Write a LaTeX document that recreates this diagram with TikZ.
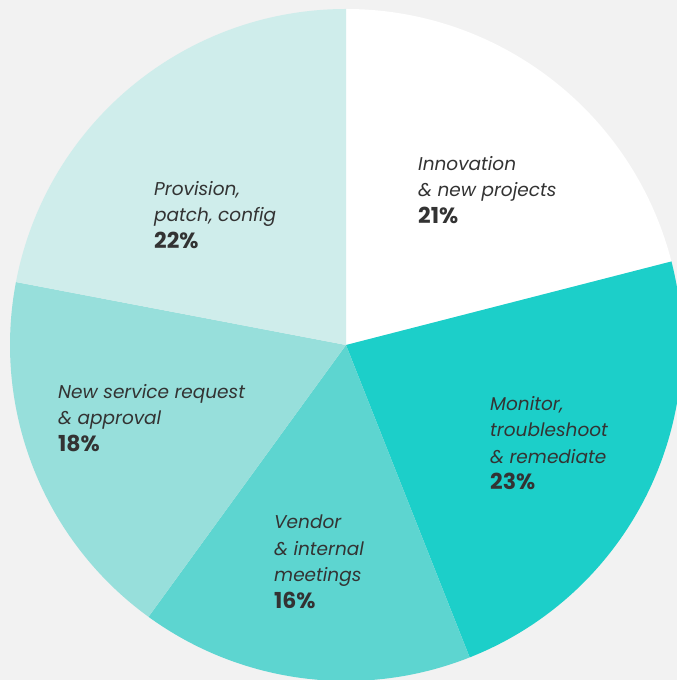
\documentclass[tikz,border=0pt]{standalone}
\usepackage{fontspec}
\setmainfont{Poppins}
\definecolor{bg}{HTML}{F2F2F2}
\definecolor{sA}{HTML}{FFFFFF}
\definecolor{sB}{HTML}{1CCFC9}
\definecolor{sC}{HTML}{5DD5D0}
\definecolor{sD}{HTML}{97DFDB}
\definecolor{sE}{HTML}{CFEDEB}
\definecolor{txt}{HTML}{333333}
\newcommand{\pct}[1]{{\fontsize{22}{26.5}\selectfont\upshape\bfseries #1}}
\begin{document}
\begin{tikzpicture}[x=1pt,y=1pt,
  lbl/.style={anchor=north west,inner sep=0pt,align=left,text=txt,
    font=\fontsize{18.5}{26.5}\selectfont\itshape}]
\fill[bg] (0,0) rectangle (677,680);
\useasboundingbox (0,0) rectangle (677,680);
\coordinate (c) at (346,335);
\def\R{336}
\fill[sA] (c) -- ++(90:\R) arc[start angle=90,end angle=14.4,radius=\R] -- cycle;
\fill[sB] (c) -- ++(14.4:\R) arc[start angle=14.4,end angle=-68.4,radius=\R] -- cycle;
\fill[sC] (c) -- ++(-68.4:\R) arc[start angle=-68.4,end angle=-126,radius=\R] -- cycle;
\fill[sD] (c) -- ++(-126:\R) arc[start angle=-126,end angle=-190.8,radius=\R] -- cycle;
\fill[sE] (c) -- ++(-190.8:\R) arc[start angle=-190.8,end angle=-270,radius=\R] -- cycle;
\node[lbl] (innov) at (418,524) {Innovation\\\& new projects\\\pct{21\%}};
\node[lbl] (monit) at (490,284) {Monitor,\\troubleshoot\\\& remediate\\\pct{23\%}};
\node[lbl] (vend) at (274,165) {Vendor\\\& internal\\meetings\\\pct{16\%}};
\node[lbl] (newsr) at (58,296) {New service request\\\& approval\\\pct{18\%}};
\node[lbl] (prov) at (154,499) {Provision,\\patch, config\\\pct{22\%}};
\end{tikzpicture}
\end{document}
